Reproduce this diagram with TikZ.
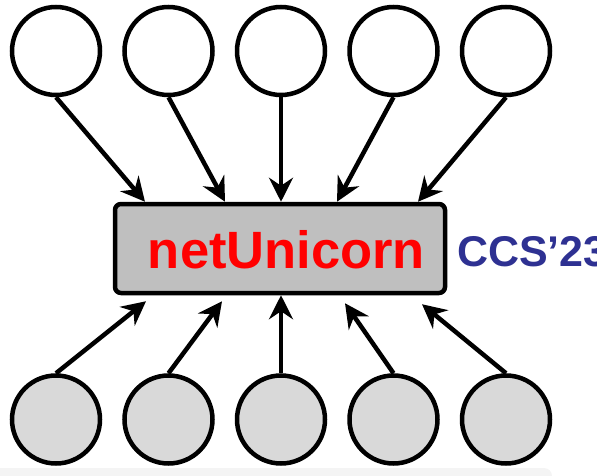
\documentclass[tikz,border=0pt]{standalone}
\usepackage{fontspec}
\setmainfont{Liberation Sans}
\usepackage{tikz}
\usetikzlibrary{arrows.meta, positioning}
\usepackage{xcolor}
\definecolor{boxgray}{RGB}{191, 191, 191}
\definecolor{nodegray}{RGB}{217, 217, 217}
\definecolor{bandgray}{RGB}{244, 244, 244}
\definecolor{ccsblue}{RGB}{46, 49, 146}
\definecolor{nured}{RGB}{255, 0, 0}
\tikzset{
    peer/.style={circle, draw=black, line width=4.5pt, minimum size=88pt, inner sep=0pt},
    toppeer/.style={peer, fill=white},
    botpeer/.style={peer, fill=nodegray},
    nubox/.style={draw=black, line width=4.5pt, fill=boxgray, rounded corners=6pt,
        minimum width=330pt, minimum height=89pt, inner sep=0pt},
    arr/.style={line width=4.5pt, -{Stealth[length=24pt, width=24pt, inset=8pt]}}
}

\begin{document}
\begin{tikzpicture}[x=1pt, y=-1pt]
    \path[use as bounding box, clip] (0,0) rectangle (597,476);
    % faint band at the bottom
    \fill[bandgray, rounded corners=8pt] (-20,468) rectangle (552,500);

    \node[nubox] (nu) at (280,248.5) {};
    \node[anchor=base, inner sep=0pt, text=nured] (nutxt) at (286.5,268)
        {\fontsize{52.5}{60}\selectfont\bfseries netUnicorn};
    \node[anchor=base west, inner sep=0pt, text=ccsblue] (ccs) at (457,266)
        {\fontsize{43}{50}\selectfont\bfseries CCS’23};

    \foreach \i/\x in {1/56,2/168.5,3/281,4/393.5,5/506} {
        \node[toppeer] (top\i) at (\x,51) {};
        \node[botpeer] (bot\i) at (\x,419.5) {};
    }

    \foreach \i/\dx in {1/-135,2/-55,3/1,4/57,5/138}
        \draw[arr] (top\i.south) -- ([xshift=\dx pt]nu.north);
    \foreach \i/\dx/\dy in {1/-134/-6,2/-58/-6,3/1/0,4/65/-8,5/142/-9}
        \draw[arr] (bot\i.north) -- ([xshift=\dx pt, yshift=\dy pt]nu.south);
\end{tikzpicture}
\end{document}
